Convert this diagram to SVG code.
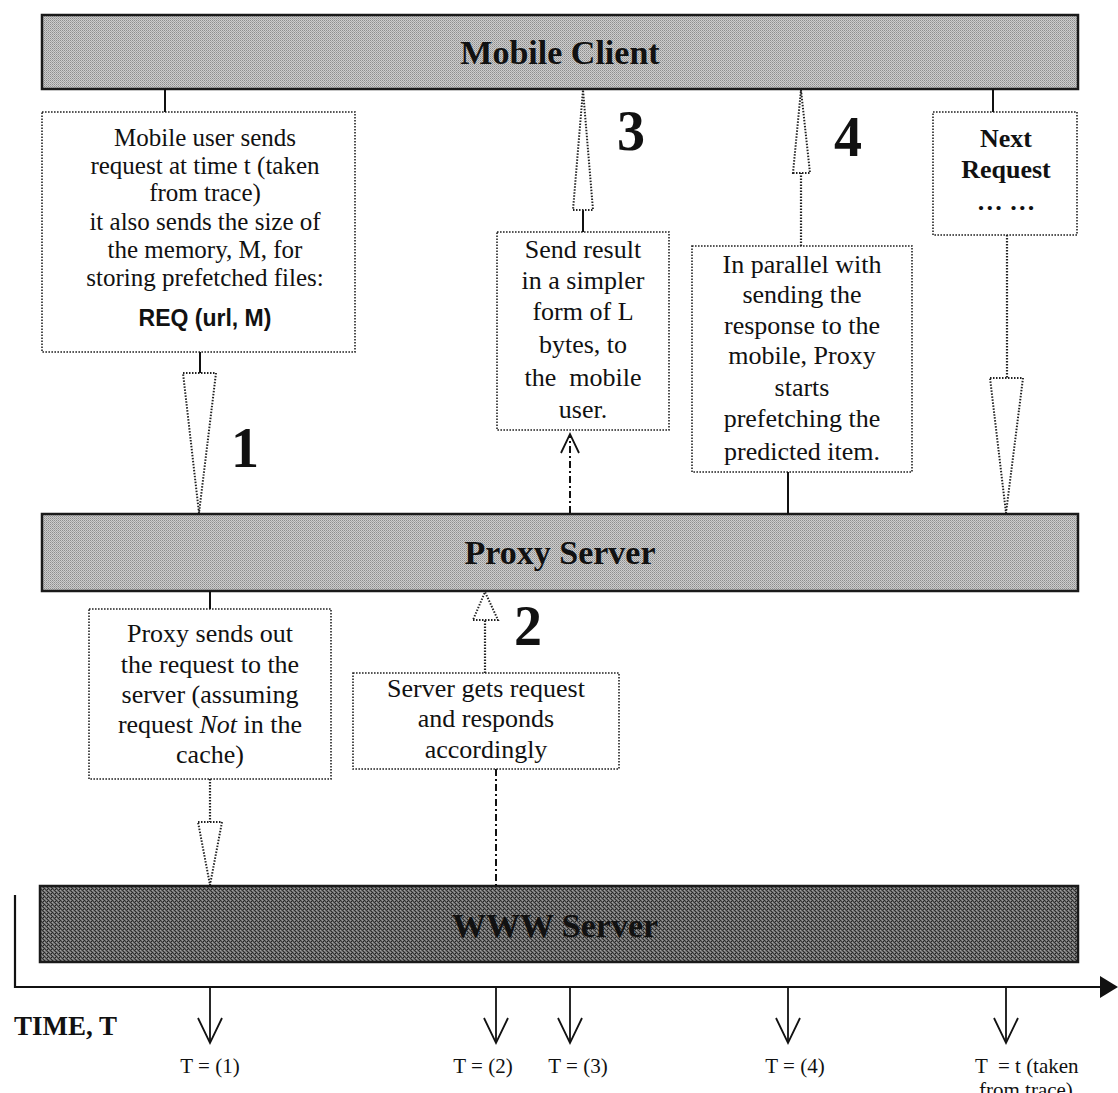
<svg xmlns="http://www.w3.org/2000/svg" width="1118" height="1093" viewBox="0 0 1118 1093">
  <defs>
    <!-- dithered grey fills for the tier bars -->
    <pattern id="ditherLight" width="2" height="2" patternUnits="userSpaceOnUse">
      <rect width="2" height="2" fill="#cdcdcd"/>
      <rect x="0" y="0" width="1" height="1" fill="#8e8e8e"/>
      <rect x="1" y="1" width="1" height="1" fill="#a6a6a6"/>
    </pattern>
    <pattern id="ditherDark" width="4" height="4" patternUnits="userSpaceOnUse">
      <rect width="4" height="4" fill="#6c6c6c"/>
      <rect x="0" y="0" width="1" height="1" fill="#2a2a2a"/>
      <rect x="2" y="0" width="1" height="1" fill="#9a9a9a"/>
      <rect x="1" y="1" width="1" height="1" fill="#3a3a3a"/>
      <rect x="3" y="1" width="1" height="1" fill="#222"/>
      <rect x="0" y="2" width="1" height="1" fill="#a0a0a0"/>
      <rect x="2" y="2" width="1" height="1" fill="#333"/>
      <rect x="1" y="3" width="1" height="1" fill="#8a8a8a"/>
      <rect x="3" y="3" width="1" height="1" fill="#2e2e2e"/>
    </pattern>
    <clipPath id="clipBox4"><rect x="692" y="246" width="220" height="220"/></clipPath>
    <clipPath id="clipServer"><rect x="353" y="673" width="266" height="91"/></clipPath>
  </defs>
  <style>
    .bar { fill: url(#ditherLight); stroke: #1a1a1a; stroke-width: 2.5; }
    .bar-dark { fill: url(#ditherDark); stroke: #1a1a1a; stroke-width: 2.5; }
    .title { font-family: "Liberation Serif", "Times New Roman", serif; font-weight: bold; font-size: 34px; fill: #111; text-anchor: middle; }
    .box { fill: #fff; stroke: #222; stroke-width: 1.6; stroke-dasharray: 1.6 1.4; }
    .txt { font-family: "Liberation Serif", "Times New Roman", serif; font-size: 26px; fill: #111; text-anchor: middle; }
    .txt-sm { font-size: 25px; }
    .bold { font-weight: bold; }
    .req { font-family: "Liberation Sans", Arial, sans-serif; font-weight: bold; font-size: 23px; }
    .num { font-family: "Liberation Serif", "Times New Roman", serif; font-weight: bold; font-size: 56px; fill: #111; text-anchor: middle; }
    .solid { stroke: #111; stroke-width: 2; fill: none; }
    .dotted { stroke: #222; stroke-width: 2.2; stroke-dasharray: 1.5 1.5; fill: none; }
    .hollow { fill: #fff; stroke: #222; stroke-width: 2; stroke-dasharray: 1.5 1.5; }
    .dashdot { stroke: #111; stroke-width: 2; stroke-dasharray: 7 3 2 3; fill: none; }
    .axis { stroke: #111; stroke-width: 2.2; fill: none; }
    .tick { stroke: #111; stroke-width: 1.8; fill: none; }
    .tlabel { font-family: "Liberation Serif", "Times New Roman", serif; font-size: 21px; fill: #111; }
    .axis-title { font-family: "Liberation Serif", "Times New Roman", serif; font-size: 27px; font-weight: bold; fill: #111; }
  </style>

  <rect width="1118" height="1093" fill="#fff"/>

  <!-- tier bars -->
  <g id="mobile-client">
    <rect class="bar" x="42" y="15" width="1036" height="74"/>
    <text class="title" x="560" y="64">Mobile Client</text>
  </g>
  <g id="proxy-server">
    <rect class="bar" x="42" y="514" width="1036" height="77"/>
    <text class="title" x="560" y="564">Proxy Server</text>
  </g>
  <g id="www-server">
    <rect class="bar-dark" x="40" y="886" width="1038" height="76"/>
    <text class="title" x="555" y="937">WWW Server</text>
  </g>

  <!-- step boxes -->
  <g id="request-box">
    <rect class="box" x="42" y="112" width="313" height="240"/>
    <text class="txt txt-sm" x="205" y="146">Mobile user sends</text>
    <text class="txt txt-sm" x="205" y="174">request at time t (taken</text>
    <text class="txt txt-sm" x="205" y="201">from trace)</text>
    <text class="txt txt-sm" x="205" y="230">it also sends the size of</text>
    <text class="txt txt-sm" x="205" y="258">the memory, M, for</text>
    <text class="txt txt-sm" x="205" y="286">storing prefetched files:</text>
    <text class="txt req" x="205" y="326">REQ (url, M)</text>
  </g>

  <g id="result-box">
    <rect class="box" x="497" y="232" width="172" height="198"/>
    <text class="txt" x="583" y="258">Send result</text>
    <text class="txt" x="583" y="289">in a simpler</text>
    <text class="txt" x="583" y="320">form of L</text>
    <text class="txt" x="583" y="353">bytes, to</text>
    <text class="txt" x="583" y="386" xml:space="preserve">the  mobile</text>
    <text class="txt" x="583" y="418">user.</text>
  </g>

  <g id="prefetch-box">
    <rect class="box" x="692" y="246" width="220" height="226"/>
    <g clip-path="url(#clipBox4)">
      <text class="txt" x="802" y="273">In parallel with</text>
      <text class="txt" x="802" y="303">sending the</text>
      <text class="txt" x="802" y="334">response to the</text>
      <text class="txt" x="802" y="364">mobile, Proxy</text>
      <text class="txt" x="802" y="396">starts</text>
      <text class="txt" x="802" y="427">prefetching the</text>
      <text class="txt" x="802" y="460">predicted item.</text>
    </g>
  </g>

  <g id="next-request-box">
    <rect class="box" x="933" y="112" width="144" height="123"/>
    <text class="txt bold" x="1006" y="147">Next</text>
    <text class="txt bold" x="1006" y="178">Request</text>
    <text class="txt bold" x="1006" y="210">… …</text>
  </g>

  <g id="forward-box">
    <rect class="box" x="89" y="609" width="242" height="170"/>
    <text class="txt" x="210" y="642">Proxy sends out</text>
    <text class="txt" x="210" y="673">the request to the</text>
    <text class="txt" x="210" y="703">server (assuming</text>
    <text class="txt" x="210" y="733">request <tspan font-style="italic">Not</tspan> in the</text>
    <text class="txt" x="210" y="763">cache)</text>
  </g>

  <g id="server-box">
    <rect class="box" x="353" y="673" width="266" height="96"/>
    <g clip-path="url(#clipServer)">
      <text class="txt" x="486" y="697">Server gets request</text>
      <text class="txt" x="486" y="727">and responds</text>
      <text class="txt" x="486" y="758">accordingly</text>
    </g>
  </g>

  <!-- connectors between tiers and boxes -->
  <g id="connectors">
    <!-- step 1: client to proxy -->
    <line class="solid" x1="165" y1="89" x2="165" y2="112"/>
    <line class="solid" x1="200" y1="352" x2="200" y2="373"/>
    <polygon class="hollow" points="183,373 216,373 199,513"/>
    <!-- step 3: proxy result to client -->
    <line class="dashdot" x1="570" y1="513" x2="570" y2="434"/>
    <polyline class="tick" points="561,453 570,434 579,453"/>
    <line class="solid" x1="583" y1="232" x2="583" y2="210"/>
    <polygon class="hollow" points="573,210 593,210 583,90"/>
    <!-- step 4: prefetch in parallel -->
    <line class="solid" x1="788" y1="472" x2="788" y2="514"/>
    <line class="dotted" x1="801" y1="246" x2="801" y2="173"/>
    <polygon class="hollow" points="793,173 810,173 801,90"/>
    <!-- next request -->
    <line class="solid" x1="993" y1="89" x2="993" y2="112"/>
    <line class="dotted" x1="1007" y1="235" x2="1007" y2="378"/>
    <polygon class="hollow" points="990,378 1023,378 1006,513"/>
    <!-- proxy to WWW server -->
    <line class="solid" x1="210" y1="591" x2="210" y2="609"/>
    <line class="dotted" x1="210" y1="779" x2="210" y2="822"/>
    <polygon class="hollow" points="198,822 222,822 210,885"/>
    <!-- step 2: WWW server back to proxy -->
    <line class="dashdot" x1="496" y1="769" x2="496" y2="886"/>
    <line class="dotted" x1="485" y1="673" x2="485" y2="620"/>
    <polygon class="hollow" points="473,620 498,620 485,592"/>
  </g>

  <!-- step numbers -->
  <g id="step-labels">
    <text class="num" x="245" y="467">1</text>
    <text class="num" x="528" y="645">2</text>
    <text class="num" x="631" y="150">3</text>
    <text class="num" x="848" y="156">4</text>
  </g>

  <!-- time axis -->
  <g id="time-axis">
    <polyline class="axis" points="15,895 15,987 1102,987"/>
    <polygon points="1100,976 1118,987 1100,998" fill="#111"/>
    <text class="axis-title" x="14" y="1035">TIME, T</text>
    <g id="ticks">
      <line class="tick" x1="210" y1="987" x2="210" y2="1043"/>
      <polyline class="tick" points="198,1018 210,1043 222,1018"/>
      <line class="tick" x1="496" y1="987" x2="496" y2="1043"/>
      <polyline class="tick" points="484,1018 496,1043 508,1018"/>
      <line class="tick" x1="570" y1="987" x2="570" y2="1043"/>
      <polyline class="tick" points="558,1018 570,1043 582,1018"/>
      <line class="tick" x1="788" y1="987" x2="788" y2="1043"/>
      <polyline class="tick" points="776,1018 788,1043 800,1018"/>
      <line class="tick" x1="1006" y1="987" x2="1006" y2="1043"/>
      <polyline class="tick" points="994,1018 1006,1043 1018,1018"/>
    </g>
    <text class="tlabel" x="210" y="1073" text-anchor="middle">T = (1)</text>
    <text class="tlabel" x="483" y="1073" text-anchor="middle">T = (2)</text>
    <text class="tlabel" x="578" y="1073" text-anchor="middle">T = (3)</text>
    <text class="tlabel" x="795" y="1073" text-anchor="middle">T = (4)</text>
    <text class="tlabel" x="975" y="1073" xml:space="preserve">T  = t (taken</text>
    <text class="tlabel" x="979" y="1097">from trace)</text>
  </g>
</svg>
